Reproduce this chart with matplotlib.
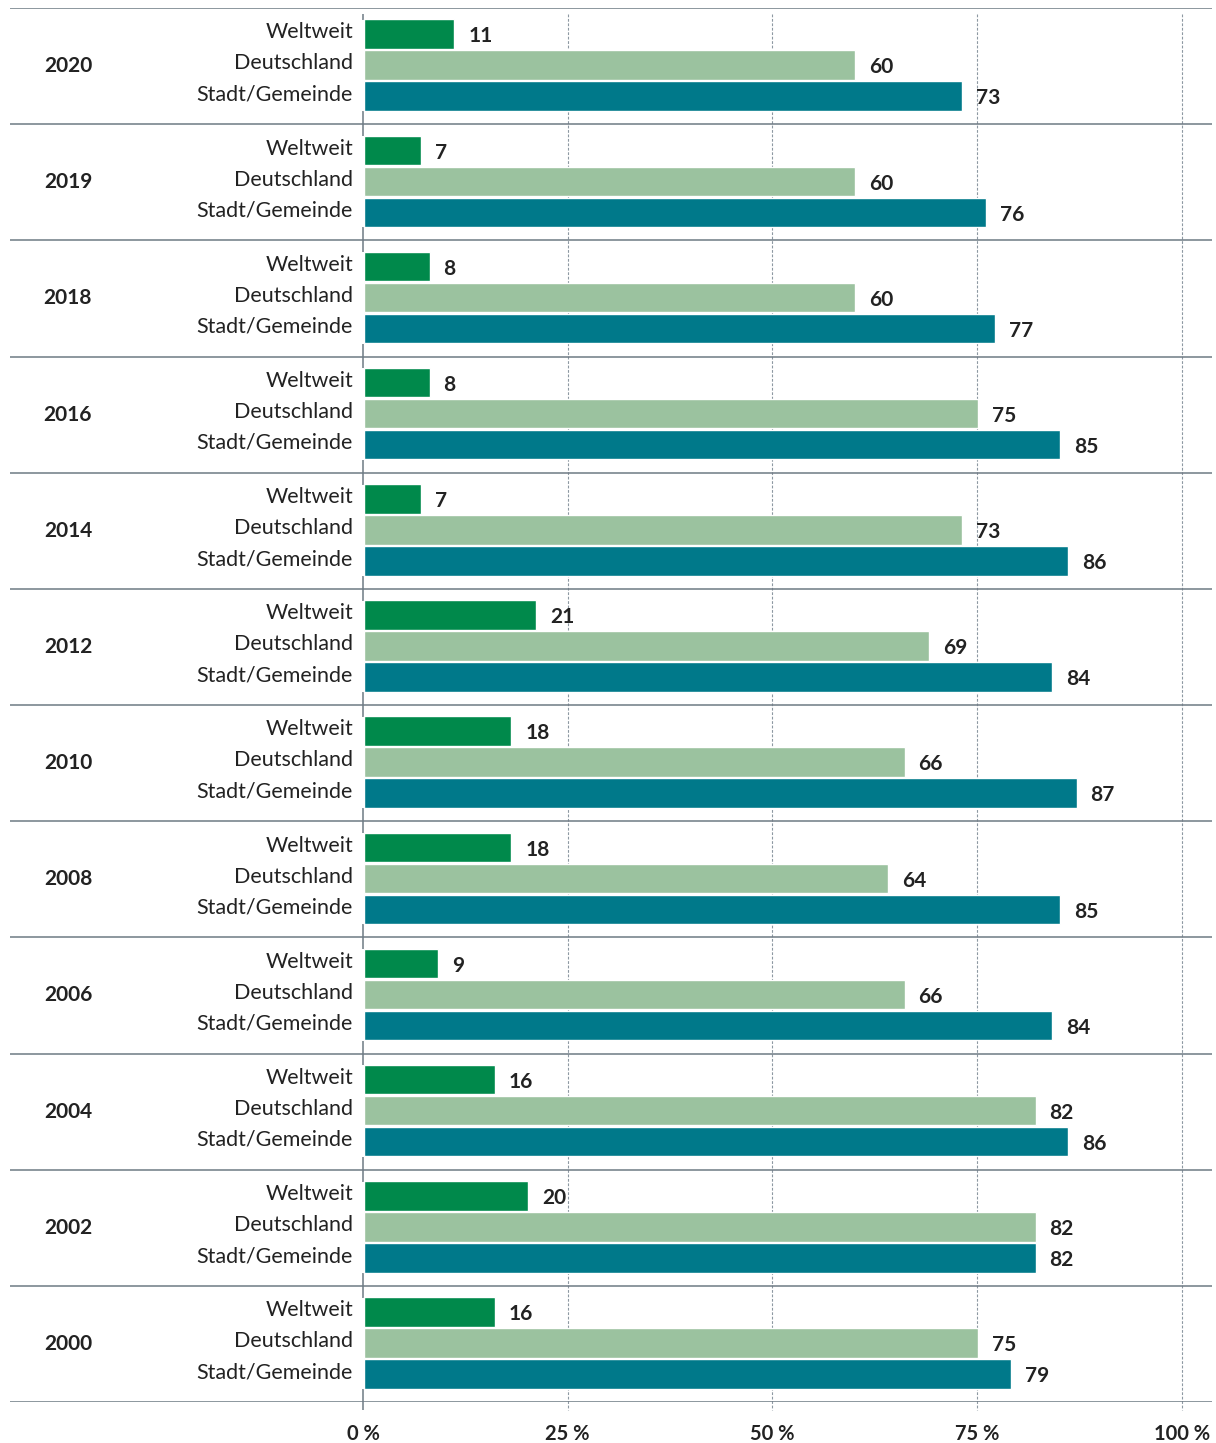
import numpy as np
import matplotlib
matplotlib.use("Agg")
import matplotlib.pyplot as plt

years = ["2020", "2019", "2018", "2016", "2014", "2012",
         "2010", "2008", "2006", "2004", "2002", "2000"]
series = ["Weltweit", "Deutschland", "Stadt/Gemeinde"]
weltweit = [11, 7, 8, 8, 7, 21, 18, 18, 9, 16, 20, 16]
deutschland = [60, 60, 60, 75, 73, 69, 66, 64, 66, 82, 82, 75]
stadt = [73, 76, 77, 85, 86, 84, 87, 85, 84, 86, 82, 79]
ticks = [0, 25, 50, 75, 100]
tick_labels = ["0 %", "25 %", "50 %", "75 %", "100 %"]

COLORS = ["#00894b", "#9bc29f", "#00798a"]
LINE = "#6e7a84"
TXT = "#222222"

plt.rcParams["font.family"] = ["Lato", "DejaVu Sans"]

W, H = 1216, 1443
fig = plt.figure(figsize=(W / 100, H / 100), dpi=100)
# axes spans px x 10..1212, y 8..1402 ; 0% at 363, 100% at 1182
px_per = (1182 - 363) / 100
x0 = -(363 - 10) / px_per
x1 = 100 + (1212 - 1182) / px_per
ax = fig.add_axes([10 / W, (H - 1402) / H, (1212 - 10) / W, (1402 - 8) / H])
ax.set_xlim(x0, x1)
ax.set_ylim(len(years), 0)
for s in ax.spines.values():
    s.set_visible(False)
ax.set_yticks([])

n = len(years)
gpx = 116.17  # pixels per group

# group separators
for g in range(n + 1):
    ax.axhline(g, color=LINE, lw=1.1, zorder=3)

# zero line, only visible in the gaps between groups
for g in range(n + 1):
    lo = max(g - 13 / gpx, 6 / gpx)
    hi = min(g + 12 / gpx, n + 8 / gpx)
    ax.vlines(0, lo, hi, color=LINE, lw=1.1, zorder=1, clip_on=False)

# dashed grid
ax.vlines(ticks[1:], 6 / gpx, n + 8 / gpx, color="#8d98a2", lw=0.8,
          linestyles=(0, (2.5, 1.5)), zorder=1, clip_on=False)

pitch = 31 / gpx
bh = 29.5 / gpx
off = 1 / px_per
for i, vals in enumerate([weltweit, deutschland, stadt]):
    ys = np.arange(n) + 0.5 + (i - 1) * pitch - 0.008
    ax.barh(ys, vals, height=bh, left=off, color=COLORS[i],
            edgecolor="white", linewidth=1.0, zorder=2)
    for y, v in zip(ys, vals):
        ax.text(v + 15 / px_per, y + 0.02, str(v), ha="left", va="center",
                fontsize=15, fontweight="bold", color=TXT, zorder=4)
        ax.text(-10 / px_per, y - 0.015, series[i], ha="right", va="center",
                fontsize=15.5, color=TXT, zorder=4)

for g, yr in enumerate(years):
    ax.text((68 - 363) / px_per, g + 0.5, yr, ha="center", va="center",
            fontsize=15, fontweight="bold", color=TXT)

ax.set_xticks(ticks)
ax.set_xticklabels(tick_labels, fontsize=14.5, fontweight="bold", color=TXT)
ax.tick_params(axis="x", length=0, pad=16)

fig.savefig("out.png", dpi=100, facecolor="white")
